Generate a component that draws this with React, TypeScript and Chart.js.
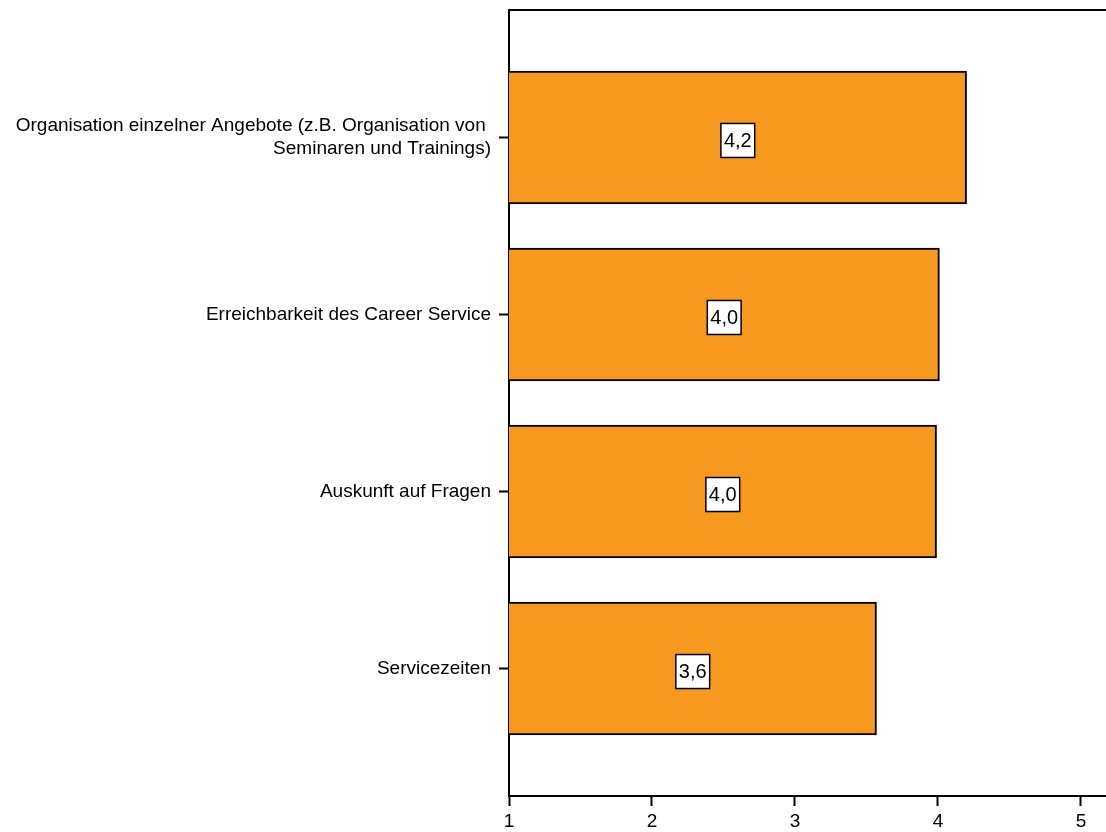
import React, { useEffect, useRef } from "react";
import { Chart, registerables } from "chart.js";

Chart.register(...registerables);

const categories: (string | string[])[] = [
  ["Organisation einzelner Angebote (z.B. Organisation von ", "Seminaren und Trainings)"],
  "Erreichbarkeit des Career Service",
  "Auskunft auf Fragen",
  "Servicezeiten",
];
const values: number[] = [4.2, 4.01, 3.99, 3.57];
const xTicks: number[] = [1, 2, 3, 4, 5];

const FONT = "Arial, 'Liberation Sans', sans-serif";

const valueBoxPlugin = {
  id: "valueBoxes",
  afterDatasetsDraw(chart: any) {
    const ctx = chart.ctx;
    const meta = chart.getDatasetMeta(0);
    const xScale = chart.scales.x;
    ctx.save();
    ctx.font = `20px ${FONT}`;
    ctx.textAlign = "center";
    ctx.textBaseline = "middle";
    meta.data.forEach((bar: any, i: number) => {
      const cx = (bar.x + xScale.getPixelForValue(xScale.min)) / 2;
      const cy = bar.y + 3;
      const txt = values[i].toFixed(1).replace(".", ",");
      const w = Math.max(ctx.measureText(txt).width + 6, 32);
      const h = 34;
      ctx.fillStyle = "#ffffff";
      ctx.fillRect(cx - w / 2, cy - h / 2, w, h);
      ctx.strokeStyle = "#000000";
      ctx.lineWidth = 1.5;
      ctx.strokeRect(cx - w / 2, cy - h / 2, w, h);
      ctx.fillStyle = "#000000";
      ctx.fillText(txt, cx, cy + 1);
    });
    ctx.restore();
  },
  afterDraw(chart: any) {
    const { ctx, chartArea } = chart;
    ctx.save();
    ctx.strokeStyle = "#000000";
    ctx.lineWidth = 2;
    ctx.beginPath();
    ctx.moveTo(chartArea.left, chartArea.top);
    ctx.lineTo(chartArea.right, chartArea.top);
    ctx.stroke();
    ctx.restore();
  },
};

export default function App() {
  const ref = useRef<HTMLCanvasElement>(null);
  useEffect(() => {
    if (!ref.current) return;
    const chart = new Chart(ref.current, {
      type: "bar",
      data: {
        datasets: [
          {
            data: values.map((v, i) => ({ x: v, y: i })),
            backgroundColor: "#F7991F",
            borderColor: "#000000",
            borderWidth: 2,
            borderSkipped: false,
            barThickness: 133,
          },
        ],
      },
      plugins: [valueBoxPlugin],
      options: {
        indexAxis: "y",
        animation: false,
        responsive: false,
        maintainAspectRatio: false,
        layout: { padding: { top: 10, left: 0, right: 0, bottom: 0 } },
        plugins: { legend: { display: false }, tooltip: { enabled: false } },
        scales: {
          x: {
            type: "linear",
            min: 1,
            max: 5.175,
            afterBuildTicks: (scale: any) => {
              scale.ticks = xTicks.map((v) => ({ value: v }));
            },
            afterFit: (scale: any) => {
              scale.height = 36;
              scale.paddingRight = 0;
            },
            ticks: {
              color: "#000000",
              font: { family: FONT, size: 19 },
              padding: 4,
              maxRotation: 0,
              autoSkip: false,
              callback: (v: any) => String(v),
            },
            grid: {
              display: true,
              drawOnChartArea: false,
              drawTicks: true,
              tickLength: 10,
              tickColor: "#000000",
              tickWidth: 2,
            },
            border: { display: true, color: "#000000", width: 2 },
          },
          y: {
            type: "linear",
            min: -0.72,
            max: 3.72,
            reverse: true,
            offset: false,
            afterBuildTicks: (scale: any) => {
              scale.ticks = categories.map((_, i) => ({ value: i }));
            },
            afterFit: (scale: any) => {
              scale.width = 509;
              scale.paddingTop = 0;
              scale.paddingBottom = 0;
            },
            ticks: {
              color: "#000000",
              font: { family: FONT, size: 19 },
              padding: 8,
              autoSkip: false,
              callback: (v: any) => categories[v as number] as any,
            },
            grid: {
              display: true,
              offset: false,
              drawOnChartArea: false,
              drawTicks: true,
              tickLength: 10,
              tickColor: "#000000",
              tickWidth: 2,
            },
            border: { display: true, color: "#000000", width: 2 },
          },
        },
      },
    } as any);
    return () => chart.destroy();
  }, []);
  return (
    <div style={{ position: "fixed", left: 0, top: 0, width: 1106, height: 832, background: "#fff" }}>
      <canvas ref={ref} width={1106} height={832} style={{ width: 1106, height: 832, display: "block" }} />
    </div>
  );
}
